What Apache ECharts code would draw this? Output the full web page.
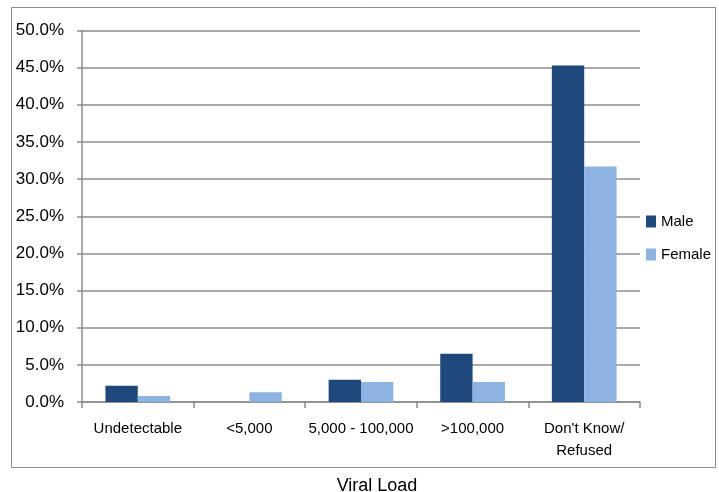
<!DOCTYPE html>
<html>
<head>
<meta charset="utf-8">
<script src="https://cdn.jsdelivr.net/npm/echarts@6/dist/echarts.min.js"></script>
<style>
html,body{margin:0;padding:0;background:#fff;}
#chart{width:719px;height:492px;}
</style>
</head>
<body>
<div id="chart"></div>
<script>
var categories = ['Undetectable', '<5,000', '5,000 - 100,000', '>100,000', "Don't Know/\nRefused"];
var maleValues = [2.2, 0, 3.0, 6.5, 45.3];
var femaleValues = [0.8, 1.3, 2.7, 2.7, 31.7];
var seriesNames = ['Male', 'Female'];
var axisTitle = 'Viral Load';

var FONT = 'Liberation Sans';
var chart = echarts.init(document.getElementById('chart'));
chart.setOption({
  animation: false,
  backgroundColor: '#fff',
  textStyle: { fontFamily: FONT },
  graphic: [{
    type: 'rect',
    shape: { x: 11.5, y: 7.5, width: 704, height: 460 },
    style: { fill: 'none', stroke: '#8c8c8c', lineWidth: 1 },
    silent: true
  }],
  grid: { left: 82, right: 79, top: 30.5, bottom: 90, containLabel: false, outerBoundsMode: 'none' },
  legend: {
    orient: 'vertical',
    left: 641,
    top: 209,
    itemWidth: 10,
    itemHeight: 12,
    itemGap: 18,
    icon: 'rect',
    textStyle: { fontFamily: FONT, fontSize: 15, color: '#000', padding: [0, 0, 0, 0] },
    data: seriesNames
  },
  xAxis: {
    type: 'category',
    data: categories,
    name: axisTitle,
    nameLocation: 'middle',
    nameGap: 75,
    nameTextStyle: { fontFamily: FONT, fontSize: 18, color: '#000', padding: [0, 0, 0, 32] },
    axisLine: { lineStyle: { color: '#8c8c8c', width: 1.5 } },
    axisTick: { show: true, length: 6, lineStyle: { color: '#8c8c8c', width: 1.5 } },
    axisLabel: { fontFamily: FONT, fontSize: 15, color: '#000', margin: 16, lineHeight: 22, interval: 0 },
    splitLine: { show: false }
  },
  yAxis: {
    type: 'value',
    min: 0,
    max: 50,
    interval: 5,
    axisLine: { show: true, lineStyle: { color: '#8c8c8c', width: 1.5 } },
    axisTick: { show: true, length: 5, lineStyle: { color: '#8c8c8c', width: 1.5 } },
    axisLabel: {
      fontFamily: FONT, fontSize: 17, color: '#000', margin: 18,
      formatter: function (v) { return v.toFixed(1) + '%'; }
    },
    splitLine: { show: true, lineStyle: { color: '#8c8c8c', width: 1.5 } }
  },
  series: [{
    name: seriesNames[0],
    type: 'bar',
    data: maleValues,
    barGap: '0%',
    barCategoryGap: '42%',
    itemStyle: { color: '#1f497d' }
  }, {
    name: seriesNames[1],
    type: 'bar',
    data: femaleValues,
    barGap: '0%',
    barCategoryGap: '42%',
    itemStyle: { color: '#8db3e2' }
  }]
});
</script>
</body>
</html>
